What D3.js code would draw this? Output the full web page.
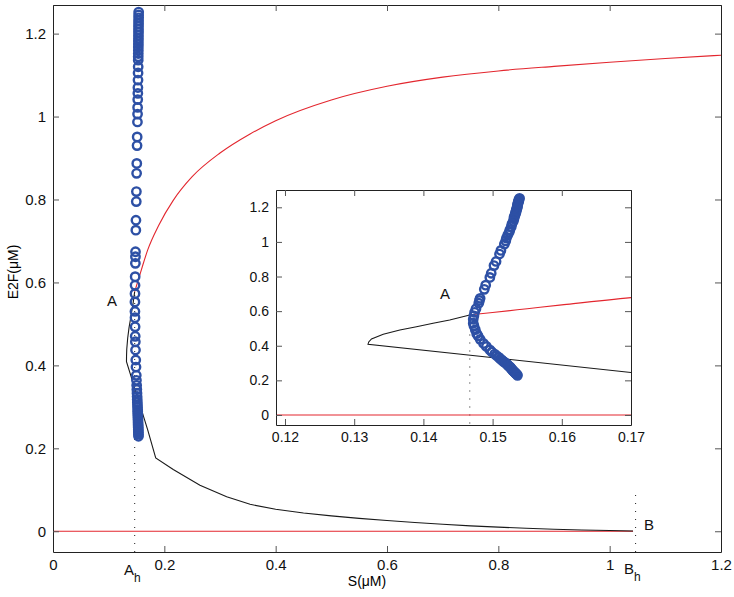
<!DOCTYPE html>
<html lang="en">
<head>
<meta charset="UTF-8">
<title>E2F bifurcation</title>
<script src="https://d3js.org/d3.v7.min.js"></script>
<style>
    body { margin: 0; background: #fff; }
    svg { font-family: "Liberation Sans", Arial, sans-serif; }
    .axis text { font-size: 15px; fill: #111; }
    .inset .axis text { font-size: 14px; }
    .axis line { stroke: #555; }
    .axis path { stroke: #222; }
</style>
</head>
<body>
<svg id="chart" width="734" height="597"></svg>
<script>
// periodic orbit amplitude (circles)
const circleE = [1.252,1.245,1.238,1.231,1.224,1.217,1.210,1.203,1.196,1.189,1.182,1.175,1.168,1.160,1.152,1.144,1.136,
    1.120,1.105,1.088,1.070,1.056,1.041,1.022,1.006,0.987,0.951,0.930,0.887,0.863,0.819,0.795,0.750,0.726,
    0.674,0.662,0.646,0.614,0.593,0.573,0.553,0.530,0.515,0.493,0.470,0.457,0.437,0.413,0.396,0.376,0.364,
    0.352,0.342,0.333,0.325,0.318,0.311,0.305,0.299,0.293,0.288,0.283,0.278,0.273,0.268,0.263,0.258,0.254,
    0.250,0.246,0.242,0.238,0.234,0.229];
const circleS = [0.1539,0.1538,0.1538,0.1537,0.1537,0.1536,0.1536,0.1536,0.1535,0.1535,0.1534,0.1534,0.1533,0.1533,0.1532,0.1531,0.1531,
    0.1530,0.1528,0.1527,0.1525,0.1524,0.1522,0.1520,0.1519,0.1517,0.1512,0.1510,0.1505,0.1502,0.1498,0.1496,0.1490,0.1488,
    0.1482,0.1481,0.1480,0.1476,0.1474,0.1473,0.1472,0.1472,0.1473,0.1475,0.1477,0.1479,0.1482,0.1487,0.1491,0.1496,0.1499,
    0.1503,0.1506,0.1509,0.1511,0.1513,0.1515,0.1517,0.1519,0.1521,0.1522,0.1523,0.1525,0.1526,0.1527,0.1528,0.1529,0.1530,
    0.1531,0.1532,0.1533,0.1534,0.1535,0.1536];

// black branch (unstable / saddle)
const blackS = [0.1467,0.1438,0.1414,0.1390,0.1366,0.1342,0.1325,0.1321,0.1320,0.1700,0.1845,0.216,0.264,0.312,0.354,
    0.40,0.45,0.50,0.55,0.60,0.65,0.70,0.75,0.80,0.85,0.90,0.95,1.00,1.042];
const blackE = [0.578,0.549,0.530,0.510,0.491,0.466,0.439,0.422,0.409,0.245,0.177,0.149,0.111,0.083,0.065,
    0.053,0.044,0.037,0.031,0.026,0.021,0.017,0.013,0.010,0.0072,0.005,0.0032,0.0017,0.0005];

// red branches (stable)
const redS = [0.1467,0.150,0.155,0.160,0.170,0.190,0.216,0.25,0.30,0.354,0.40,0.50,0.60,0.70,0.80,0.90,1.00,1.10,1.20];
const redE = [0.578,0.592,0.614,0.636,0.678,0.738,0.798,0.855,0.912,0.958,0.990,1.040,1.073,1.095,1.110,1.121,1.131,1.140,1.148];
const redLowS = [0, 1.042];
const redLowE = [0, 0];

const hopfA = 0.1467, pointB = 1.0465;

const mainTicksX = [0, 0.2, 0.4, 0.6, 0.8, 1, 1.2];
const mainTicksY = [0, 0.2, 0.4, 0.6, 0.8, 1, 1.2];
const insetTicksX = [0.12, 0.13, 0.14, 0.15, 0.16, 0.17];
const insetTicksY = [0, 0.2, 0.4, 0.6, 0.8, 1, 1.2];

const svg = d3.select('#chart');
const fmt = d => d === 0 ? "0" : String(+d.toFixed(2));

function zipPts(xs, ys) { return xs.map((s, i) => [s, ys[i]]); }

function drawPanel(g, x, y, ticksX, ticksY, clipId, dotTop, circleR) {
    const [x0, x1] = x.range(), [y0, y1] = y.range();
    g.append('rect').attr('x', x0).attr('y', y1).attr('width', x1 - x0).attr('height', y0 - y1)
        .attr('fill', '#fff');
    g.append('clipPath').attr('id', clipId).append('rect')
        .attr('x', x0).attr('y', y1).attr('width', x1 - x0).attr('height', y0 - y1);

    const plot = g.append('g').attr('clip-path', 'url(#' + clipId + ')');
    const lineLin = d3.line().x(d => x(d[0])).y(d => y(d[1]));
    const lineSmooth = d3.line().x(d => x(d[0])).y(d => y(d[1])).curve(d3.curveMonotoneX);

    // dotted markers
    plot.append('line').attr('x1', x(hopfA)).attr('x2', x(hopfA))
        .attr('y1', y(-0.05)).attr('y2', y(0.578))
        .attr('stroke', '#333').attr('stroke-width', 1.1).attr('stroke-dasharray', '1,7');
    plot.append('line').attr('x1', x(pointB)).attr('x2', x(pointB))
        .attr('y1', y(-0.05)).attr('y2', y(dotTop))
        .attr('stroke', '#333').attr('stroke-width', 1.1).attr('stroke-dasharray', '1,7');

    plot.append('path').datum(zipPts(redLowS, redLowE)).attr('d', lineLin)
        .attr('fill', 'none').attr('stroke', '#e3262e').attr('stroke-width', 1.1);
    plot.append('path').datum(zipPts(blackS, blackE)).attr('d', lineLin)
        .attr('fill', 'none').attr('stroke', '#1a1a1a').attr('stroke-width', 1.1);
    plot.append('path').datum(zipPts(redS, redE)).attr('d', lineSmooth)
        .attr('fill', 'none').attr('stroke', '#e3262e').attr('stroke-width', 1.1);

    plot.selectAll('circle.orb').data(zipPts(circleS, circleE)).join('circle')
        .attr('class', 'orb')
        .attr('cx', d => x(d[0])).attr('cy', d => y(d[1])).attr('r', circleR)
        .attr('fill', 'none').attr('stroke', '#2d50a5').attr('stroke-width', 2.4);

    // axes, ticks pointing inward like matlab
    g.append('g').attr('class', 'axis').attr('transform', `translate(0,${y0})`)
        .call(d3.axisBottom(x).tickValues(ticksX).tickFormat(fmt).tickSize(-6).tickSizeOuter(0).tickPadding(7));
    g.append('g').attr('class', 'axis').attr('transform', `translate(0,${y1})`)
        .call(d3.axisTop(x).tickValues(ticksX).tickFormat('').tickSize(-6).tickSizeOuter(0));
    g.append('g').attr('class', 'axis').attr('transform', `translate(${x0},0)`)
        .call(d3.axisLeft(y).tickValues(ticksY).tickFormat(fmt).tickSize(-6).tickSizeOuter(0).tickPadding(7));
    g.append('g').attr('class', 'axis').attr('transform', `translate(${x1},0)`)
        .call(d3.axisRight(y).tickValues(ticksY).tickFormat('').tickSize(-6).tickSizeOuter(0));
}

// main axes
const xMain = d3.scaleLinear().domain([0, 1.2]).range([53, 721]);
const yMain = d3.scaleLinear().domain([-0.05, 1.269]).range([552, 5]);
const mainG = svg.append('g');
drawPanel(mainG, xMain, yMain, mainTicksX, mainTicksY, 'clipMain', 0.1, 4.2);

// inset axes
const xIn = d3.scaleLinear().domain([0.1187, 0.17]).range([276, 631]);
const yIn = d3.scaleLinear().domain([-0.058, 1.3]).range([425, 190]);
const insetG = svg.append('g').attr('class', 'inset');
drawPanel(insetG, xIn, yIn, insetTicksX, insetTicksY, 'clipInset', 0.1, 4.2);

// axis titles
svg.append('text').attr('x', 367).attr('y', 586).attr('text-anchor', 'middle')
    .attr('font-size', 14).text('S(μM)');
svg.append('text').attr('transform', 'translate(18,272) rotate(-90)').attr('text-anchor', 'middle')
    .attr('font-size', 14).text('E2F(μM)');

// point annotations
const note = (x, y, main, sub) => {
    const t = svg.append('text').attr('x', x).attr('y', y).attr('font-size', 15).attr('fill', '#111');
    t.append('tspan').text(main);
    if (sub) t.append('tspan').attr('dy', 7).attr('font-size', 12).text(sub);
};
note(107, 306, 'A');
note(440, 299, 'A');
note(644, 530, 'B');
note(124, 575, 'A', 'h');
note(624, 574, 'B', 'h');
</script>
</body>
</html>
